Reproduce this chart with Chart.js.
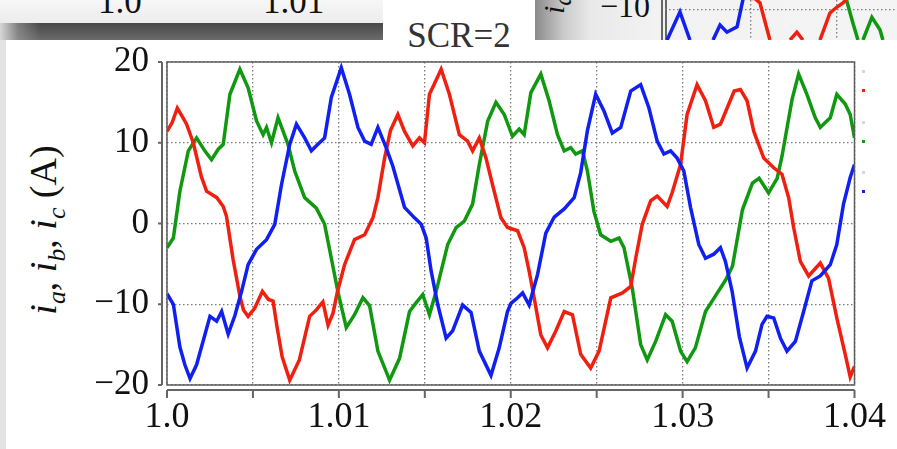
<!DOCTYPE html>
<html lang="en">
<head>
<meta charset="UTF-8">
<title>SCR=2</title>
<script src="https://cdn.jsdelivr.net/npm/chart.js"></script>
<style>
    body { margin: 0; width: 897px; height: 449px; overflow: hidden; position: relative; background: #fff; font-family: 'Liberation Serif', serif; color: #111; }
    .abs { position: absolute; }
    #topLeft { left: 0; top: 0; width: 383px; height: 23px; overflow: hidden; background: linear-gradient(to bottom, #f7f7f7, #ececec); }
    #topLeft span { position: absolute; top: -15px; font-size: 35px; line-height: 34px; }
    #band { left: 0; top: 23px; width: 383px; height: 17px; background: linear-gradient(to right, rgba(215,215,215,1) 0px, rgba(160,160,160,0.6) 18px, rgba(0,0,0,0) 40px), linear-gradient(to bottom, #474747, #6b6b6b); }
    #leftEdge { left: 0; top: 40px; width: 6px; height: 409px; background: #e3e3e3; }
    #scrBox { left: 383px; top: 0; width: 152px; height: 62px; background: #fff; text-align: center; font-size: 35px; line-height: 34px; color: #333; }
    #scrBox span { position: relative; top: 19px; }
    #topRight { left: 535px; top: 0; width: 362px; height: 40px; overflow: hidden; background: linear-gradient(to right, #8a8a8a 0px, #c9c9c9 28px, #e9e9e9 55px, #f2f2f2 120px, #f4f4f4 100%); }
    #minus10 { position: absolute; right: 247px; top: -11px; font-size: 32px; line-height: 34px; }
    #iaFrag { position: absolute; left: 2px; top: 14px; font-size: 30px; font-style: italic; transform: rotate(-90deg); transform-origin: left top; white-space: nowrap; }
    .frameLine { position: absolute; top: 0; width: 1.5px; height: 40px; background: #666; }
    #miniWrap { position: absolute; left: 130px; top: 0; width: 232px; height: 40px; }
    #ytitle { left: 47px; top: 230px; transform: translate(-50%, -50%) rotate(-90deg); white-space: nowrap; font-size: 38px; line-height: 1; }
    #ytitle sub { font-size: 0.68em; vertical-align: -0.32em; }
    .dot { position: absolute; width: 3px; height: 3px; }
    #wrap { position: absolute; left: 0; top: 0; width: 897px; height: 449px; }
</style>
</head>
<body>
    <div class="abs" id="topLeft"><span style="left:98px">1.0</span><span style="left:263px">1.01</span></div>
    <div class="abs" id="band"></div>
    <div class="abs" id="leftEdge"></div>
    <div class="abs" id="scrBox"><span>SCR=2</span></div>
    <div class="abs" id="topRight">
        <div id="iaFrag"><i>i</i><sub>a</sub>,</div>
        <div id="minus10">−10</div>
        <div class="frameLine" style="left:126px"></div>
        <div class="frameLine" style="left:130px"></div>
        <div id="miniWrap"><canvas id="mini"></canvas></div>
    </div>
    <div class="abs" id="ytitle"><i>i</i><sub><i>a</i></sub>, <i>i</i><sub><i>b</i></sub>, <i>i</i><sub><i>c</i></sub> (A)</div>

    <div class="dot" style="left:862px;top:70px;background:#d8d8d8"></div>
    <div class="dot" style="left:862px;top:89px;background:#ee2211"></div>
    <div class="dot" style="left:862px;top:121px;background:#d8d8d8"></div>
    <div class="dot" style="left:862px;top:140px;background:#129a12"></div>
    <div class="dot" style="left:862px;top:171px;background:#d8d8d8"></div>
    <div class="dot" style="left:862px;top:190px;background:#1122ee"></div>

    <div id="wrap"><canvas id="grafico"></canvas></div>

<script>
// time in ms after t = 1.0 s, current in A
var tA = [0, 0.37, 0.75, 1.24, 1.72, 2.2, 2.59, 2.98, 3.27, 3.66, 4.24, 4.72, 5.21, 5.59, 5.79, 6.08, 6.46, 7.04, 7.43, 8.01, 8.69, 9.17, 9.56, 9.94, 10.43, 10.91, 11.4, 11.79, 12.27, 12.95, 13.53, 14.11, 14.5, 14.88, 15.27, 15.66, 16.33, 16.82, 17.3, 17.78, 18.17, 18.66, 19.14, 19.62, 20.1, 20.49, 20.78, 21.17, 21.75, 22.23, 22.72, 23.11, 23.49, 23.78, 24.17, 24.46, 24.84, 25.23, 25.82, 26.3, 26.59, 27.07, 27.56, 27.94, 28.43, 29.01, 29.39, 29.88, 30.26, 30.74, 31.33, 31.9, 32.5, 32.9, 33.48, 34.06, 34.45, 35.0, 35.5, 35.78, 36.37, 36.75, 37.23, 37.72, 38.01, 38.3, 38.59, 38.97, 39.46, 39.75, 40.0];
var ia = [-3.0, -1.8, 4.0, 9.0, 10.6, 9.0, 7.9, 9.2, 9.8, 16.0, 19.1, 16.8, 12.7, 11.0, 11.9, 10.0, 13.1, 9.8, 6.5, 3.2, 1.9, -0.1, -4.3, -8.4, -12.9, -11.3, -9.2, -10.2, -15.8, -19.4, -16.7, -10.9, -9.8, -8.8, -11.3, -8.4, -2.6, -0.5, 0.3, 2.4, 7.3, 12.7, 15.0, 13.5, 10.8, 11.7, 11.0, 16.2, 18.5, 15.2, 11.0, 9.0, 9.4, 8.6, 9.0, 6.5, 1.5, -1.4, -2.2, -1.8, -3.0, -8.0, -15.0, -16.9, -14.6, -11.3, -12.1, -15.8, -17.1, -15.4, -10.9, -9.0, -7.0, -5.3, 1.7, 5.0, 5.6, 3.8, 5.6, 8.3, 15.4, 18.5, 16.0, 13.1, 11.9, 12.5, 13.1, 16.0, 14.8, 13.5, 10.6];

var tB = [0, 0.37, 0.75, 1.04, 1.34, 1.72, 2.2, 2.5, 2.89, 3.18, 3.56, 3.95, 4.34, 4.72, 5.21, 5.79, 6.27, 6.66, 7.14, 7.53, 8.01, 8.4, 8.78, 9.17, 9.56, 10.14, 10.62, 11.11, 11.5, 11.88, 12.27, 12.75, 13.14, 13.82, 14.4, 14.79, 15.08, 15.37, 15.75, 16.24, 16.62, 17.2, 17.69, 18.17, 18.85, 19.33, 19.81, 20.01, 20.4, 20.69, 21.07, 21.56, 22.04, 22.53, 23.11, 23.69, 24.07, 24.46, 24.94, 25.43, 25.91, 26.4, 26.98, 27.56, 28.04, 28.52, 28.91, 29.3, 29.68, 30.07, 30.46, 30.94, 31.33, 31.81, 32.2, 32.49, 32.88, 33.3, 33.75, 34.24, 34.62, 34.91, 35.3, 35.69, 36.07, 36.56, 37.04, 37.52, 38.01, 38.59, 38.97, 39.36, 39.75, 40.0];
var ib = [-8.7, -10.0, -15.3, -17.5, -19.2, -17.5, -13.8, -11.5, -12.1, -10.9, -13.7, -11.4, -8.4, -5.1, -3.2, -2.0, -0.1, 4.8, 9.8, 12.3, 10.6, 9.0, 9.8, 10.6, 15.6, 19.3, 16.0, 11.9, 10.2, 9.8, 11.9, 9.4, 7.1, 2.0, 0.7, -0.1, -1.8, -5.9, -10.0, -14.2, -13.3, -10.1, -11.0, -15.8, -18.8, -15.4, -10.9, -9.9, -9.2, -8.6, -10.1, -6.3, -1.2, 0.8, 1.8, 3.2, 6.3, 11.5, 16.0, 13.9, 11.2, 11.9, 16.4, 17.2, 14.3, 10.2, 8.6, 9.0, 8.1, 6.5, 2.0, -2.6, -4.3, -3.8, -3.0, -4.7, -8.4, -14.0, -17.9, -15.8, -12.5, -11.5, -11.7, -14.2, -15.8, -14.6, -10.9, -7.1, -6.5, -5.1, -2.6, 2.4, 5.7, 7.3];

var tC = [0, 0.3, 0.6, 0.9, 1.14, 1.53, 2.0, 2.3, 2.9, 3.27, 3.46, 3.85, 4.24, 4.45, 4.72, 5.1, 5.55, 5.9, 6.17, 6.4, 6.7, 7.14, 7.7, 8.3, 8.69, 9.07, 9.37, 9.66, 9.9, 10.33, 10.91, 11.5, 11.98, 12.27, 12.66, 13.0, 13.43, 13.82, 14.3, 14.69, 14.98, 15.27, 15.6, 15.95, 16.43, 17.01, 17.49, 17.78, 18.17, 18.56, 18.94, 19.43, 19.81, 20.4, 20.78, 21.07, 21.36, 21.75, 22.14, 22.62, 23.11, 23.59, 24.07, 24.65, 25.14, 25.82, 26.5, 26.98, 27.27, 27.65, 28.14, 28.52, 29.1, 29.39, 29.88, 30.26, 30.84, 31.33, 31.81, 32.2, 32.59, 33.0, 33.36, 33.75, 34.14, 34.72, 35.3, 35.78, 36.17, 36.46, 36.85, 37.33, 38.01, 38.49, 38.97, 39.46, 39.75, 40.0];
var ic = [11.4, 12.5, 14.3, 13.2, 12.3, 10.0, 5.8, 4.0, 3.2, 2.1, 0.9, -4.5, -9.0, -10.7, -11.5, -10.5, -8.4, -9.4, -9.6, -12.8, -16.5, -19.4, -16.9, -11.5, -10.7, -9.7, -12.6, -11.1, -8.6, -5.1, -2.0, -1.4, 0.7, 3.2, 8.1, 11.5, 13.5, 11.4, 9.6, 10.6, 10.0, 16.0, 17.5, 19.1, 16.0, 11.0, 10.2, 9.0, 10.6, 8.1, 4.8, 0.7, -0.5, -0.9, -3.0, -5.9, -9.2, -13.8, -15.4, -13.3, -10.9, -11.3, -16.2, -17.9, -15.8, -9.2, -8.6, -7.8, -4.3, -0.1, 2.8, 3.4, 2.1, 3.8, 7.3, 13.5, 17.2, 15.2, 11.9, 12.3, 14.3, 16.4, 16.6, 15.2, 11.4, 8.1, 6.9, 6.1, 3.2, -0.5, -4.7, -6.5, -4.9, -6.8, -11.7, -16.2, -19.0, -17.7];

var xTickLabels = ['1.0', '1.01', '1.02', '1.03', '1.04'];
var yTickLabels = ['−20', '−10', '0', '10', '20'];

// bit of the panel above, cut off at the top of the picture (null = curve leaves the strip)
var miniTA = [10.52, 10.93, 11.22, 11.4, 11.51, 12.03, 12.5, 12.67];
var miniA = [-8.0, -12.2, -15.0, null, -15.0, -11.2, -13.3, -15.0];
var miniTB = [0.12, 0.87, 1.45, 1.6, 2.79, 3.2, 3.6, 4.19, 4.53, 4.7];
var miniB = [-15.0, -10.3, -15.0, null, -15.0, -12.5, -13.7, -12.8, -8.3, -7.0];
var miniTC = [4.24, 4.65, 5.23, 5.52, 6.1, 6.5, 7.27, 7.67, 8.02, 8.5, 9.01, 9.59, 10.0, 10.35, 10.64];
var miniC = [-7.0, -8.0, -8.1, -8.8, -15.0, null, -15.0, -13.7, -15.0, null, -15.0, -10.5, -9.5, -8.8, -8.0];
var miniGridT = [5, 10];
var miniGridY = [-10];

var verde = '#109810';
var azul = '#1020f0';
var vermelho = '#f02010';

Chart.defaults.font.family = "'Liberation Serif', serif";
Chart.defaults.color = '#111';

function pontos(t, v) {
    return t.map(function (ms, i) { return { x: 1 + ms / 1000, y: v[i] }; });
}

function serie(label, t, v, cor) {
    return {
        label: label,
        data: pontos(t, v),
        showLine: true,
        borderColor: cor,
        backgroundColor: cor,
        borderWidth: 3.5,
        pointRadius: 0,
        tension: 0
    };
}

// plot frame plus the offset axis lines with their ticks
const eixos = {
    id: 'eixos',
    afterDraw(chart) {
        const ctx = chart.ctx;
        const a = chart.chartArea;
        const x = chart.scales.x;
        const y = chart.scales.y;
        ctx.save();
        ctx.strokeStyle = '#5c5c5c';
        ctx.lineWidth = 1.5;
        ctx.strokeRect(a.left, a.top, a.right - a.left, a.bottom - a.top);
        ctx.lineWidth = 2;
        ctx.strokeStyle = '#666';
        ctx.beginPath();
        ctx.moveTo(a.left - 5, a.top);
        ctx.lineTo(a.left - 5, a.bottom);
        ctx.moveTo(a.left, a.bottom + 5);
        ctx.lineTo(a.right, a.bottom + 5);
        x.ticks.forEach(function (t) {
            const px = x.getPixelForValue(t.value);
            ctx.moveTo(px, a.bottom + 5);
            ctx.lineTo(px, a.bottom + 13);
        });
        y.ticks.forEach(function (t) {
            const py = y.getPixelForValue(t.value);
            ctx.moveTo(a.left - 5, py);
            ctx.lineTo(a.left - 9, py);
        });
        ctx.stroke();
        ctx.restore();
    }
};

new Chart(document.getElementById('grafico'), {
    type: 'scatter',
    data: {
        datasets: [
            serie('ib', tB, ib, azul),
            serie('ic', tC, ic, vermelho),
            serie('ia', tA, ia, verde)
        ]
    },
    options: {
        responsive: true,
        maintainAspectRatio: false,
        animation: false,
        layout: { padding: { top: 62, right: 41, left: 0, bottom: 0 } },
        plugins: { legend: { display: false }, tooltip: { enabled: false } },
        scales: {
            x: {
                type: 'linear',
                min: 1.0,
                max: 1.04,
                afterFit: function (s) { s.height = 64; },
                ticks: {
                    stepSize: 0.005,
                    autoSkip: false,
                    maxRotation: 0,
                    padding: 11,
                    font: { size: 36 },
                    callback: function (v, i) { return i % 2 === 0 ? xTickLabels[i / 2] : ''; }
                },
                grid: { color: '#7c7c7c', lineWidth: 1.3, drawTicks: false },
                border: { display: false, dash: [1.5, 2.5] }
            },
            y: {
                min: -20,
                max: 20,
                afterFit: function (s) { s.width = 167; },
                ticks: {
                    stepSize: 10,
                    padding: 18,
                    font: { size: 35 },
                    callback: function (v, i) { return yTickLabels[i]; }
                },
                grid: { color: '#7c7c7c', lineWidth: 1.3, drawTicks: false },
                border: { display: false, dash: [1.5, 2.5] }
            }
        }
    },
    plugins: [eixos]
});

function linhaMini(t, v, cor) {
    return {
        data: t.map(function (ms, i) { return { x: ms, y: v[i] }; }),
        showLine: true,
        spanGaps: false,
        borderColor: cor,
        borderWidth: 3.5,
        pointRadius: 0
    };
}

new Chart(document.getElementById('mini'), {
    type: 'scatter',
    data: {
        datasets: [
            linhaMini(miniTB, miniB, azul),
            linhaMini(miniTC, miniC, vermelho),
            linhaMini(miniTA, miniA, verde)
        ]
    },
    options: {
        responsive: true,
        maintainAspectRatio: false,
        animation: false,
        layout: { padding: 0 },
        plugins: { legend: { display: false }, tooltip: { enabled: false } },
        scales: {
            x: {
                type: 'linear', min: 0, max: 13.49,
                afterFit: function (s) { s.height = 0; },
                afterBuildTicks: function (s) { s.ticks = miniGridT.map(function (v) { return { value: v }; }); },
                ticks: { display: false },
                grid: { color: '#7c7c7c', lineWidth: 1.3, drawTicks: false },
                border: { display: false, dash: [1.5, 2.5] }
            },
            y: {
                min: -15, max: -8.33,
                afterFit: function (s) { s.width = 0; },
                afterBuildTicks: function (s) { s.ticks = miniGridY.map(function (v) { return { value: v }; }); },
                ticks: { display: false },
                grid: { color: '#7c7c7c', lineWidth: 1.3, drawTicks: false },
                border: { display: false, dash: [1.5, 2.5] }
            }
        }
    }
});
</script>
</body>
</html>
